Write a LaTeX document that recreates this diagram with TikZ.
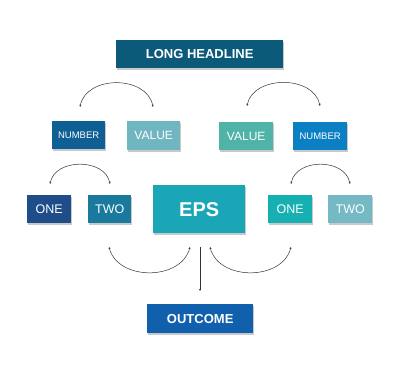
\documentclass[tikz,border=0pt]{standalone}
\usepackage{fontspec}
\setmainfont{Liberation Sans}
\usetikzlibrary{arrows.meta,shadows}
\definecolor{cHead}{HTML}{0B5A7A}
\definecolor{cNumL}{HTML}{0E5F93}
\definecolor{cValL}{HTML}{70B6C0}
\definecolor{cValR}{HTML}{4FB3A8}
\definecolor{cNumR}{HTML}{0B7FC4}
\definecolor{cOneL}{HTML}{1F4D8A}
\definecolor{cTwoL}{HTML}{1A7A9E}
\definecolor{cEps}{HTML}{1BA6B8}
\definecolor{cOneR}{HTML}{16B0B3}
\definecolor{cTwoR}{HTML}{75B9C4}
\definecolor{cOut}{HTML}{1160AD}
\tikzset{
  box/.style={draw=none, text=white, inner sep=0pt, anchor=north west,
    drop shadow={shadow xshift=0.5pt, shadow yshift=-1.5pt, opacity=0.35, fill=black!60}},
  conn/.style={draw=black!80, line width=0.5pt, {Stealth[length=2.2pt,width=2pt]}-{Stealth[length=2.2pt,width=2pt]}},
  vconn/.style={draw=black!80, line width=0.5pt, -{Stealth[length=2.2pt,width=2pt]}}
}
\begin{document}
\begin{tikzpicture}[x=1pt,y=-1pt]
\useasboundingbox[fill=white] (0,0) rectangle (400,371);
% boxes
\node[box, fill=cHead, minimum width=167pt, minimum height=28pt, font=\bfseries\fontsize{13}{13}\selectfont] (head) at (116,40) {LONG HEADLINE};
\node[box, fill=cNumL, minimum width=53pt, minimum height=28pt, font=\fontsize{9.5}{10}\selectfont] (numl) at (52,121) {NUMBER};
\node[box, fill=cValL, minimum width=53pt, minimum height=29pt, font=\fontsize{12}{12}\selectfont] (vall) at (127,121) {VALUE};
\node[box, fill=cValR, minimum width=54pt, minimum height=28pt, font=\fontsize{12}{12}\selectfont] (valr) at (219,122) {VALUE};
\node[box, fill=cNumR, minimum width=54pt, minimum height=28pt, font=\fontsize{9.5}{10}\selectfont] (numr) at (293,122) {NUMBER};
\node[box, fill=cOneL, minimum width=44pt, minimum height=28pt, font=\fontsize{12.5}{13}\selectfont] (onel) at (27,195) {ONE};
\node[box, fill=cTwoL, minimum width=43pt, minimum height=28pt, font=\fontsize{12.5}{13}\selectfont] (twol) at (88,195) {TWO};
\node[box, fill=cEps, minimum width=92pt, minimum height=48pt, font=\bfseries\fontsize{20}{20}\selectfont] (eps) at (153,185) {EPS};
\node[box, fill=cOneR, minimum width=44pt, minimum height=28pt, font=\fontsize{12.5}{13}\selectfont] (oner) at (268,195) {ONE};
\node[box, fill=cTwoR, minimum width=44pt, minimum height=28pt, font=\fontsize{12.5}{13}\selectfont] (twor) at (328,195) {TWO};
\node[box, fill=cOut, minimum width=106pt, minimum height=29pt, font=\bfseries\fontsize{13}{13}\selectfont] (out) at (147,304) {OUTCOME};
% connector end points
\coordinate (a1) at (80,107); \coordinate (a2) at (153,107);
\coordinate (b1) at (247,106); \coordinate (b2) at (320,106);
\coordinate (c1) at (50,184); \coordinate (c2) at (110,184);
\coordinate (d1) at (291,184); \coordinate (d2) at (350,184);
\coordinate (e1) at (109,247); \coordinate (e2) at (190,247);
\coordinate (f1) at (210,247); \coordinate (f2) at (291,247);
\coordinate (g1) at (200,247); \coordinate (g2) at (200,291);
% connectors
\draw[conn] (a1) .. controls (86,75) and (147,75) .. (a2);
\draw[conn] (b1) .. controls (253,75) and (314,75) .. (b2);
\draw[conn] (c1) .. controls (55,158) and (105,158) .. (c2);
\draw[conn] (d1) .. controls (296,158) and (345,158) .. (d2);
\draw[conn] (e1) .. controls (118,281) and (181,281) .. (e2);
\draw[conn] (f1) .. controls (219,281) and (282,281) .. (f2);
\draw[vconn] (g1) -- (g2);
\end{tikzpicture}
\end{document}
